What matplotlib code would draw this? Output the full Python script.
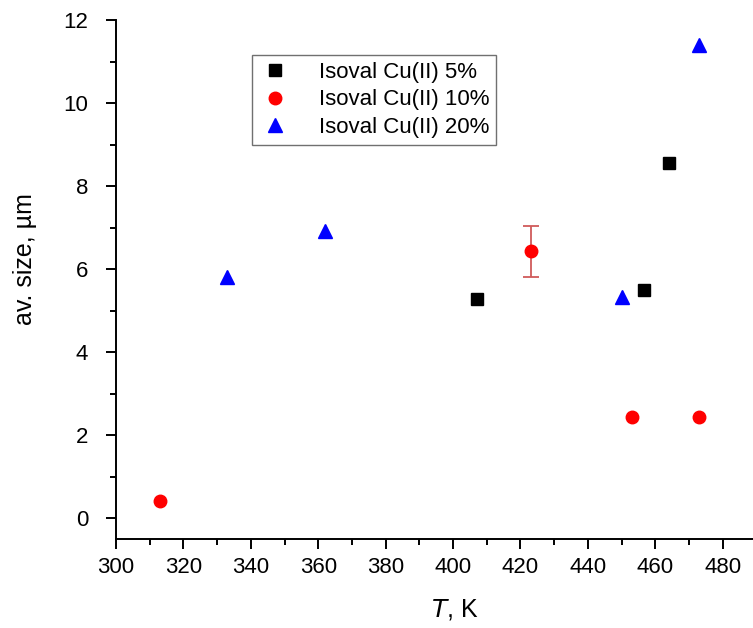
import numpy as np
import matplotlib.pyplot as plt
from matplotlib.lines import Line2D
from matplotlib.ticker import MultipleLocator

plt.rcParams['font.family'] = ['Liberation Sans', 'DejaVu Sans']

# Cu(II) 5%
T5 = [407, 456.8, 464]
s5 = [5.27, 5.50, 8.56]

# Cu(II) 10%
T10 = [313, 423, 453, 473]
s10 = [0.42, 6.43, 2.44, 2.44]
e10 = [0.0, 0.62, 0.0, 0.0]

# Cu(II) 20%
T20 = [333, 362, 450, 473]
s20 = [5.80, 6.92, 5.33, 11.40]
e20 = [0.15, 0.15, 0.15, 0.12]

W, H = 753, 628
fig = plt.figure(figsize=(W / 100, H / 100), dpi=100)
# x axis runs to 500, past the right edge of the canvas
ax = fig.add_axes([116 / W, 1 - 539 / H, 674 / W, 519 / H])

# only draw error bars where there is a spread
T10, s10, e10 = np.array(T10), np.array(s10), np.array(e10)
has_err = e10 > 0
ax.errorbar(T10[has_err], s10[has_err], yerr=e10[has_err], fmt='none', ecolor='#d05a5a',
            elinewidth=1.3, capsize=6, capthick=1.3, zorder=2)
ax.errorbar(T20, s20, yerr=e20, fmt='none', ecolor='#0000ff', elinewidth=1, capsize=0, zorder=2)

ax.plot(T20, s20, '^', color='#0000ff', ms=10, zorder=3)
ax.plot(T10, s10, 'o', color='#ff0000', ms=9, zorder=3)
ax.plot(T5, s5, 's', color='black', ms=8, zorder=3)

ax.set_xlim(300, 500)
ax.set_ylim(-0.5, 12)
ax.set_xticks(np.arange(300, 481, 20))
ax.xaxis.set_minor_locator(MultipleLocator(10))
ax.yaxis.set_major_locator(MultipleLocator(2))
ax.yaxis.set_minor_locator(MultipleLocator(1))
ax.tick_params(which='major', direction='out', length=7, width=1.4, labelsize=16)
ax.tick_params(axis='x', which='major', pad=6)
ax.tick_params(axis='y', which='major', pad=13)
ax.tick_params(which='minor', direction='out', length=4, width=1.4)
for side in ['top', 'right']:
    ax.spines[side].set_visible(False)
for side in ['left', 'bottom']:
    ax.spines[side].set_linewidth(1.4)

ax.set_xlabel(r'$\it{T}$, K', fontsize=18)
ax.set_ylabel('av. size, µm', fontsize=18)
ax.xaxis.set_label_coords(455 / W, 1 - 597 / H, transform=fig.transFigure)
ax.yaxis.set_label_coords(37 / W, 1 - 259 / H, transform=fig.transFigure)

handles = [
    Line2D([], [], ls='none', marker='s', color='black', ms=8),
    Line2D([], [], ls='none', marker='o', color='#ff0000', ms=9),
    Line2D([], [], ls='none', marker='^', color='#0000ff', ms=10),
]
labels = ['Isoval Cu(II) 5%', 'Isoval Cu(II) 10%', 'Isoval Cu(II) 20%']
leg = ax.legend(handles, labels, loc='upper left',
                bbox_to_anchor=(252 / W, 1 - 55 / H), bbox_transform=fig.transFigure,
                borderaxespad=0, fontsize=16, fancybox=False, edgecolor='#707070',
                framealpha=1, handlelength=1.5, handletextpad=1.2, borderpad=0.3,
                labelspacing=0.3)
leg.get_frame().set_linewidth(1.0)

fig.savefig('out.png', dpi=100)
